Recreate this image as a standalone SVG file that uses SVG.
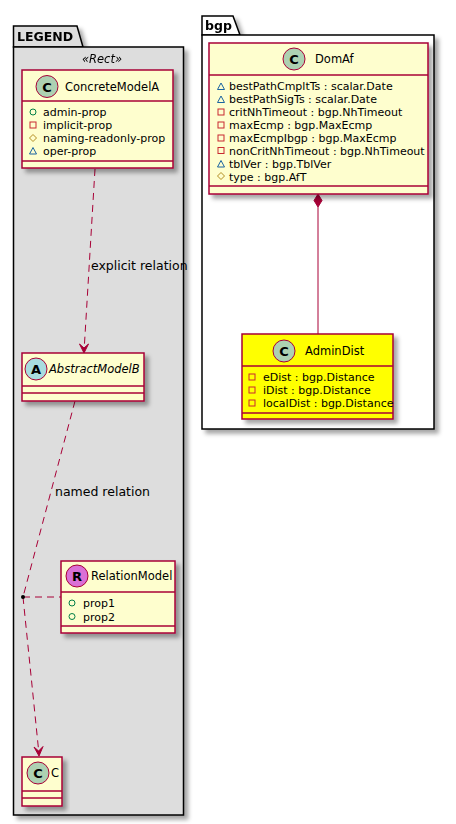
<svg xmlns="http://www.w3.org/2000/svg" width="456" height="824" viewBox="0 0 456 824">
<style>
text{font-family:"DejaVu Sans","Liberation Sans",sans-serif;fill:#000}
.pk{stroke:#000;stroke-width:1.5}
.cls{fill:#FEFECE;stroke:#A80036;stroke-width:1.5}
.sep{stroke:#A80036;stroke-width:1.5}
.nm{font-size:11.5px}
.at{font-size:11px}
.lbl{font-size:12.5px}
.ic{stroke:#A80036;stroke-width:1}
.cl{font-size:13px;font-weight:bold;text-anchor:middle}
.pub{fill:none;stroke:#038048;stroke-width:1}
.pri{fill:none;stroke:#C82930;stroke-width:1}
.pro{fill:none;stroke:#B38D22;stroke-width:1}
.pkg{fill:none;stroke:#1963A0;stroke-width:1}
.ln{fill:none;stroke:#A80036;stroke-width:1}
.dash{stroke-dasharray:7,5}
</style>
<defs>
<filter id="sh" x="-10%" y="-10%" width="130%" height="130%">
<feGaussianBlur in="SourceAlpha" stdDeviation="2"/>
<feOffset dx="4" dy="4" result="b"/>
<feColorMatrix in="b" type="matrix" values="0 0 0 0 0  0 0 0 0 0  0 0 0 0 0  0 0 0 0.35 0" result="c"/>
<feMerge><feMergeNode in="c"/><feMergeNode in="SourceGraphic"/></feMerge>
</filter>
</defs>

<g id="pkg-legend" filter="url(#sh)">
<path class="pk" fill="#DDDDDD" d="M13.5,47 V26 H77 L83,47 Z"/>
<rect class="pk" fill="#DDDDDD" x="13.5" y="47" width="170" height="768"/>
<text x="17" y="41" style="font-size:12.5px;font-weight:bold">LEGEND</text>
<text x="102" y="63" text-anchor="middle" style="font-size:11.5px;font-style:italic">«Rect»</text>
</g>

<g id="pkg-bgp" filter="url(#sh)">
<path class="pk" fill="#FFFFFF" d="M202,35 V16 H233 L240,35 Z"/>
<rect class="pk" fill="#FFFFFF" x="202" y="35" width="232" height="394"/>
<text x="205" y="30" style="font-size:12.5px;font-weight:bold">bgp</text>
</g>

<g id="connectors">
<line class="ln dash" x1="95" y1="169" x2="84" y2="352"/>
<path fill="#A80036" stroke="#A80036" d="M84,353 L79.5,344 L84,348 L88.5,344 Z"/>
<text class="lbl" x="91" y="270">explicit relation</text>
<line class="ln dash" x1="75" y1="401" x2="23" y2="597"/>
<text class="lbl" x="55" y="496">named relation</text>
<line class="ln dash" x1="23" y1="597" x2="61" y2="597"/>
<line class="ln dash" x1="23" y1="597" x2="39" y2="754"/>
<path fill="#A80036" stroke="#A80036" d="M39,756 L34,747 L38.6,751 L43,746.5 Z"/>
<circle cx="23" cy="597" r="2" fill="#000"/>
<line class="ln" x1="318" y1="207" x2="318" y2="334"/>
<path fill="#A80036" stroke="#A80036" d="M318,194 L322,200.5 L318,207 L314,200.5 Z"/>
</g>

<g id="ConcreteModelA">
<rect class="cls" x="22" y="70" width="151" height="98" filter="url(#sh)"/>
<line class="sep" x1="22" y1="101" x2="173" y2="101"/>
<line class="sep" x1="22" y1="161" x2="173" y2="161"/>
<circle cx="47" cy="86.5" r="11" fill="#ADD1B2" class="ic"/>
<text class="cl" x="47" y="91.5">C</text>
<text class="nm" x="65" y="91">ConcreteModelA</text>
<circle class="pub" cx="33" cy="112" r="3"/>
<text class="at" x="43" y="116">admin-prop</text>
<rect class="pri" x="30" y="122" width="6" height="6"/>
<text class="at" x="43" y="129">implicit-prop</text>
<path class="pro" d="M33,134.5 L36.5,138 L33,141.5 L29.5,138 Z"/>
<text class="at" x="43" y="142">naming-readonly-prop</text>
<path class="pkg" d="M33,147.5 L36.5,154 L29.5,154 Z"/>
<text class="at" x="43" y="155">oper-prop</text>
</g>

<g id="AbstractModelB">
<rect class="cls" x="22" y="353" width="122" height="48" filter="url(#sh)"/>
<line class="sep" x1="22" y1="386" x2="144" y2="386"/>
<line class="sep" x1="22" y1="393" x2="144" y2="393"/>
<circle cx="36" cy="369" r="11" fill="#A9DCDF" class="ic"/>
<text class="cl" x="36" y="374">A</text>
<text class="nm" x="49" y="373" font-style="italic">AbstractModelB</text>
</g>

<g id="RelationModel">
<rect class="cls" x="61" y="561" width="114" height="72" filter="url(#sh)"/>
<line class="sep" x1="61" y1="592" x2="175" y2="592"/>
<line class="sep" x1="61" y1="626" x2="175" y2="626"/>
<circle cx="77" cy="576" r="11" fill="#DA70D6" class="ic"/>
<text class="cl" x="77" y="581">R</text>
<text class="nm" x="91" y="580">RelationModel</text>
<circle class="pub" cx="72" cy="603" r="3"/>
<text class="at" x="83" y="607">prop1</text>
<circle class="pub" cx="72" cy="616.5" r="3"/>
<text class="at" x="83" y="620.5">prop2</text>
</g>

<g id="C">
<rect class="cls" x="22" y="757" width="40" height="49" filter="url(#sh)"/>
<line class="sep" x1="22" y1="791" x2="62" y2="791"/>
<line class="sep" x1="22" y1="798" x2="62" y2="798"/>
<circle cx="38" cy="773" r="11" fill="#ADD1B2" class="ic"/>
<text class="cl" x="38" y="778">C</text>
<text class="nm" x="51" y="777">C</text>
</g>

<g id="DomAf">
<rect class="cls" x="209" y="43" width="219" height="151" filter="url(#sh)"/>
<line class="sep" x1="209" y1="75" x2="428" y2="75"/>
<line class="sep" x1="209" y1="186" x2="428" y2="186"/>
<circle cx="294" cy="59" r="11" fill="#ADD1B2" class="ic"/>
<text class="cl" x="294" y="64">C</text>
<text class="nm" x="315" y="63">DomAf</text>
<path class="pkg" d="M221,83 L224.5,89.5 L217.5,89.5 Z"/>
<text class="at" x="229" y="90">bestPathCmpltTs : scalar.Date</text>
<path class="pkg" d="M221,96 L224.5,102.5 L217.5,102.5 Z"/>
<text class="at" x="229" y="103">bestPathSigTs : scalar.Date</text>
<rect class="pri" x="218" y="109" width="6" height="6"/>
<text class="at" x="229" y="116">critNhTimeout : bgp.NhTimeout</text>
<rect class="pri" x="218" y="122" width="6" height="6"/>
<text class="at" x="229" y="129">maxEcmp : bgp.MaxEcmp</text>
<rect class="pri" x="218" y="135" width="6" height="6"/>
<text class="at" x="229" y="142">maxEcmpIbgp : bgp.MaxEcmp</text>
<rect class="pri" x="218" y="147.5" width="6" height="6"/>
<text class="at" x="229" y="154.5">nonCritNhTimeout : bgp.NhTimeout</text>
<path class="pkg" d="M221,160.5 L224.5,167 L217.5,167 Z"/>
<text class="at" x="229" y="167.5">tblVer : bgp.TblVer</text>
<path class="pro" d="M221,172.5 L224.5,176 L221,179.5 L217.5,176 Z"/>
<text class="at" x="229" y="180.5">type : bgp.AfT</text>
</g>

<g id="AdminDist">
<rect class="cls" x="242" y="334" width="151" height="85" fill="#FFFF00" style="fill:#FFFF00" filter="url(#sh)"/>
<line class="sep" x1="242" y1="366" x2="393" y2="366"/>
<line class="sep" x1="242" y1="413" x2="393" y2="413"/>
<circle cx="284" cy="351" r="11" fill="#ADD1B2" class="ic"/>
<text class="cl" x="284" y="356">C</text>
<text class="nm" x="305" y="355">AdminDist</text>
<rect class="pri" x="249" y="374" width="6" height="6"/>
<text class="at" x="263" y="381">eDist : bgp.Distance</text>
<rect class="pri" x="249" y="387" width="6" height="6"/>
<text class="at" x="263" y="394">iDist : bgp.Distance</text>
<rect class="pri" x="249" y="400" width="6" height="6"/>
<text class="at" x="263" y="407">localDist : bgp.Distance</text>
</g>
</svg>
